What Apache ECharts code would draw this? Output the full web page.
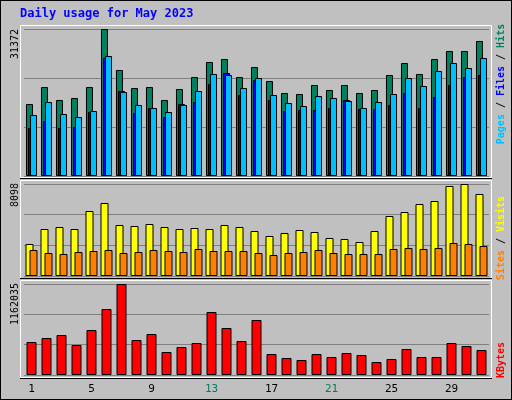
<!DOCTYPE html>
<html><head><meta charset="utf-8">
<script src="https://cdn.jsdelivr.net/npm/echarts@6/dist/echarts.min.js"></script>
<style>html,body{margin:0;padding:0;background:#c0c0c0}#c{width:512px;height:400px;box-sizing:border-box;border:1px solid #000}</style>
</head><body><div id="c"></div>
<script>
const days = ['1','2','3','4','5','6','7','8','9','10','11','12','13','14','15','16','17','18','19','20','21','22','23','24','25','26','27','28','29','30','31'];
const weekendDays = ['6','7','13','14','20','21','27','28'];
const hits = [15366,18994,16220,16647,18994,31372,22623,18781,18994,16220,18568,21129,24330,24970,21129,23263,20275,17714,17500,19421,18354,19421,17714,18354,21555,24117,21769,24970,26678,26678,28812];
const files = [13019,15793,13232,12592,13872,25610,17927,15153,14513,13659,15153,18141,21769,21555,18781,20915,17287,15580,14939,17074,16647,16006,14513,15793,17500,20915,19208,22409,24117,23049,25184];
const pages = [10244,11738,10244,10458,13659,25184,18141,13446,14513,12592,15366,15793,19635,21982,17287,20488,16220,13872,14086,14086,14513,16220,14299,14299,15153,17714,14513,16860,19421,21129,21555];
const visits = [2817,4137,4313,4137,5721,6425,4489,4401,4577,4313,4137,4225,4137,4489,4313,3961,3521,3785,4049,3873,3345,3257,2993,3961,5281,5633,6337,6601,7922,8098,7218];
const sites = [2289,2024,1936,2112,2200,2289,2024,2112,2289,2200,2112,2377,2200,2200,2200,2024,1848,2024,2112,2289,2024,1936,1936,1936,2377,2465,2377,2465,2905,2817,2641];
const kbytes = [421394,472472,510780,383085,574628,842787,1162035,446933,523550,293699,357546,408624,804479,600167,434163,702323,268160,217082,191543,268160,229851,280929,255390,166004,204312,332007,229851,229851,408624,370316,319238];
const maxLabels = ['31372','8098','1162035'];
const title = 'Daily usage for May 2023';

const mono = 'DejaVu Sans Mono';
const chart = echarts.init(document.getElementById('c'));
const grids = [
  {left:23,width:465,top:28,height:147},
  {left:23,width:465,top:183,height:92},
  {left:23,width:465,top:283,height:91}
];
const maxes = [31372, 8098, 1162035];
function xa(i){
  return {type:'category',gridIndex:i,data:days,axisLine:{show:false},axisTick:{show:false},
    axisLabel:{show:i===2,margin:9,fontFamily:mono,fontSize:11,
      formatter:v=>weekendDays.includes(v)?'{w|'+v+'}':'{n|'+v+'}',
      rich:{w:{color:'#008060',fontFamily:mono,fontSize:11},n:{color:'#000',fontFamily:mono,fontSize:11}}}};
}
function ya(i){
  return {type:'value',gridIndex:i,min:0,max:maxes[i],interval:maxes[i]/3,axisLabel:{show:false},
    axisLine:{show:false},axisTick:{show:false},splitLine:{lineStyle:{color:'#808080',width:1}}};
}
const bs = c=>({color:c,borderColor:'#000',borderWidth:1});
const frame = (y,h)=>({type:'rect',shape:{x:19.5,y:y+0.5,width:471,height:h},style:{fill:'#c0c0c0',stroke:'#fff',lineWidth:1},z:-10});
const vtext = (x,y,text,rich,size,bold)=>({type:'text',x:x,y:y,rotation:Math.PI/2,
  style:{text:text,rich:rich,align:'center',verticalAlign:'middle',font:(bold?'bold ':'')+size+'px '+mono,fill:'#000'},z:10});
chart.setOption({
  animation:false,
  backgroundColor:'#c0c0c0',
  grid:grids,
  xAxis:[xa(0),xa(1),xa(2)],
  yAxis:[ya(0),ya(1),ya(2)],
  graphic:[
    frame(24,152),frame(179,98),frame(279,97),
    {type:'line',shape:{x1:19,y1:177.5,x2:491,y2:177.5},style:{stroke:'#000'}},
    {type:'line',shape:{x1:19,y1:277.5,x2:491,y2:277.5},style:{stroke:'#000'}},
    {type:'line',shape:{x1:19,y1:377.5,x2:491,y2:377.5},style:{stroke:'#000'}},
    {type:'text',left:19,top:7,style:{text:title,font:'bold 12px '+mono,fill:'#0000ff'}},
    vtext(14,43,maxLabels[0],null,10,false),
    vtext(14,194,maxLabels[1],null,10,false),
    vtext(14,303,maxLabels[2],null,10,false),
    vtext(500,83,'{p|Pages} / {f|Files} / {h|Hits}',{p:{fill:'#00c0ff',font:'bold 10px '+mono},f:{fill:'#0000ff',font:'bold 10px '+mono},h:{fill:'#008060',font:'bold 10px '+mono}},10,true),
    vtext(500,237,'{s|Sites} / {v|Visits}',{s:{fill:'#ff8000',font:'bold 10px '+mono},v:{fill:'#ffff00',font:'bold 10px '+mono}},10,true),
    vtext(500,359,'{k|KBytes}',{k:{fill:'#ff0000',font:'bold 10px '+mono}},10,true)
  ],
  series:[
    {type:'bar',xAxisIndex:0,yAxisIndex:0,data:hits,barWidth:7,barGap:'-71%',itemStyle:bs('#008060')},
    {type:'bar',xAxisIndex:0,yAxisIndex:0,data:pages,barWidth:7,barGap:'-71%',itemStyle:bs('#0000ff')},
    {type:'bar',xAxisIndex:0,yAxisIndex:0,data:files,barWidth:7,barGap:'-71%',itemStyle:bs('#00c0ff')},
    {type:'bar',xAxisIndex:1,yAxisIndex:1,data:visits,barWidth:8,barGap:'-50%',itemStyle:bs('#ffff00')},
    {type:'bar',xAxisIndex:1,yAxisIndex:1,data:sites,barWidth:8,barGap:'-50%',itemStyle:bs('#ff8000')},
    {type:'bar',xAxisIndex:2,yAxisIndex:2,data:kbytes,barWidth:10,itemStyle:bs('#ff0000')}
  ]
});
</script></body></html>
